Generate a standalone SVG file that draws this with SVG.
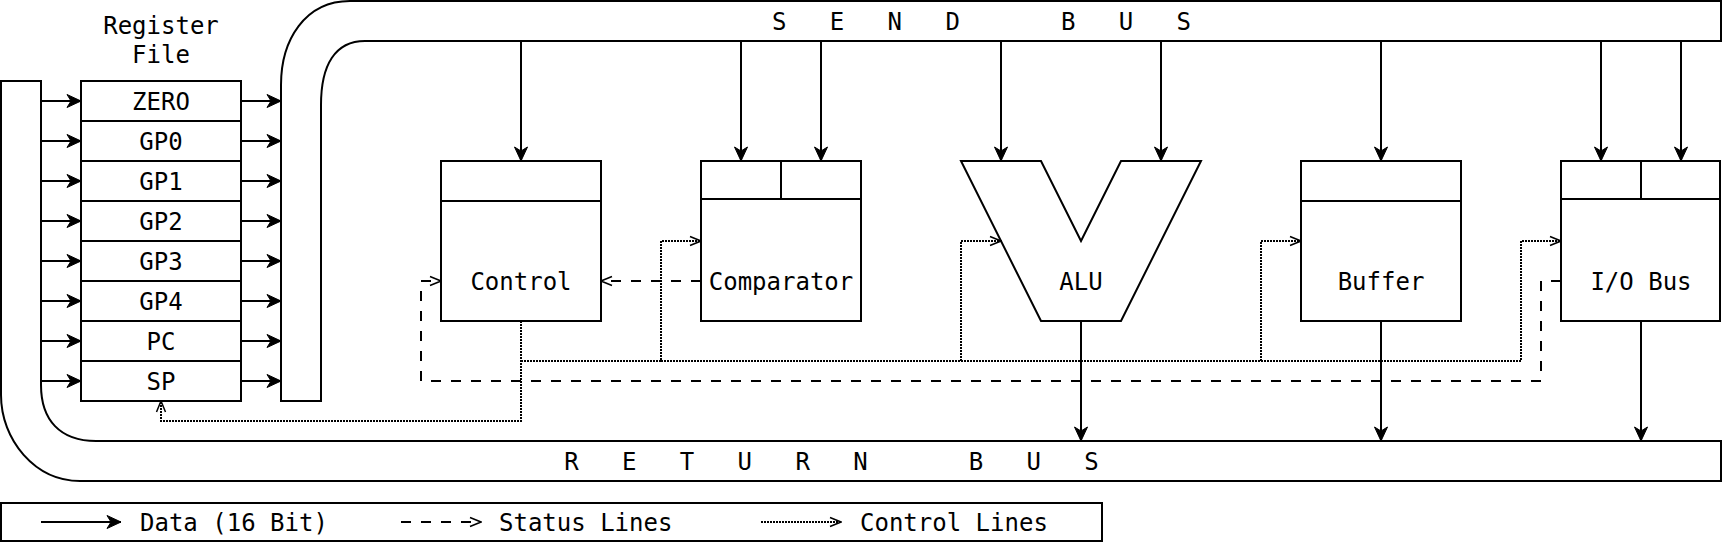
<svg xmlns="http://www.w3.org/2000/svg" width="1722" height="542" viewBox="0 0 1722 542">
<style>
.s{fill:none;stroke:#000;stroke-width:2}
.w{fill:#fff;stroke:#000;stroke-width:2}
.d{fill:none;stroke:#000;stroke-width:2;marker-end:url(#a)}
.ds{fill:none;stroke:#000;stroke-width:2;stroke-dasharray:10 10;marker-end:url(#o)}
.dt{fill:none;stroke:#000;stroke-width:2;stroke-dasharray:2 1;marker-end:url(#o)}
text{font-family:"DejaVu Sans Mono","Liberation Mono",monospace;font-size:24px;fill:#000;text-anchor:middle}
.bus{white-space:pre}
</style>
<defs>
<marker id="a" viewBox="-16 -8 17 16" refX="0" refY="0" markerWidth="17" markerHeight="16" markerUnits="userSpaceOnUse" orient="auto">
<path d="M0,0 L-14,-6.5 L-10,0 L-14,6.5 Z" fill="#000" stroke="#000" stroke-width="1" stroke-linejoin="miter"/>
</marker>
<marker id="o" viewBox="-13 -7 14 14" refX="0" refY="0" markerWidth="14" markerHeight="14" markerUnits="userSpaceOnUse" orient="auto">
<path d="M-11,-4.5 L0,0 L-11,4.5" fill="none" stroke="#000" stroke-width="1.5"/>
</marker>
</defs>
<rect width="1722" height="542" fill="#fff"/>

<g id="return-bus">
<path class="w" d="M1,81 H41 V385 C41,420 60,441 96,441 H1721 V481 H80 C35,481 1,440 1,395 Z"/>
<text class="bus" x="831.5" y="469.5" xml:space="preserve">R   E   T   U   R   N       B   U   S</text>
</g>

<g id="send-bus">
<path class="w" d="M281,401 V85 C281,40 305,1 350,1 H1721 V41 H365 C335,41 321,65 321,105 V401 Z"/>
<text class="bus" x="981.5" y="29.5" xml:space="preserve">S   E   N   D       B   U   S</text>
</g>

<g id="register-file">
<text x="161" y="34">Register</text>
<text x="161" y="63">File</text>
<rect class="w" x="81" y="81" width="160" height="40"/>
<rect class="w" x="81" y="121" width="160" height="40"/>
<rect class="w" x="81" y="161" width="160" height="40"/>
<rect class="w" x="81" y="201" width="160" height="40"/>
<rect class="w" x="81" y="241" width="160" height="40"/>
<rect class="w" x="81" y="281" width="160" height="40"/>
<rect class="w" x="81" y="321" width="160" height="40"/>
<rect class="w" x="81" y="361" width="160" height="40"/>
<text x="161" y="109.5">ZERO</text>
<text x="161" y="149.5">GP0</text>
<text x="161" y="189.5">GP1</text>
<text x="161" y="229.5">GP2</text>
<text x="161" y="269.5">GP3</text>
<text x="161" y="309.5">GP4</text>
<text x="161" y="349.5">PC</text>
<text x="161" y="389.5">SP</text>
</g>

<g id="control">
<rect class="w" x="441" y="161" width="160" height="160"/>
<line class="s" x1="441" y1="201" x2="601" y2="201"/>
<text x="521" y="289.5">Control</text>
</g>

<g id="comparator">
<rect class="w" x="701" y="161" width="160" height="160"/>
<line class="s" x1="701" y1="199" x2="861" y2="199"/>
<line class="s" x1="781" y1="161" x2="781" y2="199"/>
<text x="781" y="289.5">Comparator</text>
</g>

<g id="alu">
<polygon class="w" points="961,161 1041,161 1081,241 1121,161 1201,161 1121,321 1041,321"/>
<text x="1081" y="289.5">ALU</text>
</g>

<g id="buffer">
<rect class="w" x="1301" y="161" width="160" height="160"/>
<line class="s" x1="1301" y1="201" x2="1461" y2="201"/>
<text x="1381" y="289.5">Buffer</text>
</g>

<g id="io-bus">
<rect class="w" x="1561" y="161" width="159" height="160"/>
<line class="s" x1="1561" y1="199" x2="1720" y2="199"/>
<line class="s" x1="1641" y1="161" x2="1641" y2="199"/>
<text x="1641" y="289.5">I/O Bus</text>
</g>

<g id="connectors">
<path class="d" d="M41,101 H81"/>
<path class="d" d="M41,141 H81"/>
<path class="d" d="M41,181 H81"/>
<path class="d" d="M41,221 H81"/>
<path class="d" d="M41,261 H81"/>
<path class="d" d="M41,301 H81"/>
<path class="d" d="M41,341 H81"/>
<path class="d" d="M41,381 H81"/>
<path class="d" d="M241,101 H281"/>
<path class="d" d="M241,141 H281"/>
<path class="d" d="M241,181 H281"/>
<path class="d" d="M241,221 H281"/>
<path class="d" d="M241,261 H281"/>
<path class="d" d="M241,301 H281"/>
<path class="d" d="M241,341 H281"/>
<path class="d" d="M241,381 H281"/>
<path class="d" d="M521,41 V161"/>
<path class="d" d="M741,41 V161"/>
<path class="d" d="M821,41 V161"/>
<path class="d" d="M1001,41 V161"/>
<path class="d" d="M1161,41 V161"/>
<path class="d" d="M1381,41 V161"/>
<path class="d" d="M1601,41 V161"/>
<path class="d" d="M1681,41 V161"/>
<path class="d" d="M1081,321 V441"/>
<path class="d" d="M1381,321 V441"/>
<path class="d" d="M1641,321 V441"/>
<path class="ds" d="M701,281 H601"/>
<path class="ds" d="M1561,281 H1541 V381 H421 V281 H441"/>
<path class="dt" d="M521,321 V421 H161 V401"/>
<path class="dt" d="M521,361 H661 V241 H701"/>
<path class="dt" d="M661,361 H961 V241 H1001"/>
<path class="dt" d="M961,361 H1261 V241 H1301"/>
<path class="dt" d="M1261,361 H1521 V241 H1561"/>
</g>

<g id="legend">
<rect class="w" x="1" y="503" width="1101" height="38"/>
<path class="d" d="M41,522 H121"/>
<text x="140" y="530.5" style="text-anchor:start">Data (16 Bit)</text>
<path class="ds" d="M401,522 H481"/>
<text x="499" y="530.5" style="text-anchor:start">Status Lines</text>
<path class="dt" d="M761,522 H841"/>
<text x="860" y="530.5" style="text-anchor:start">Control Lines</text>
</g>
</svg>
